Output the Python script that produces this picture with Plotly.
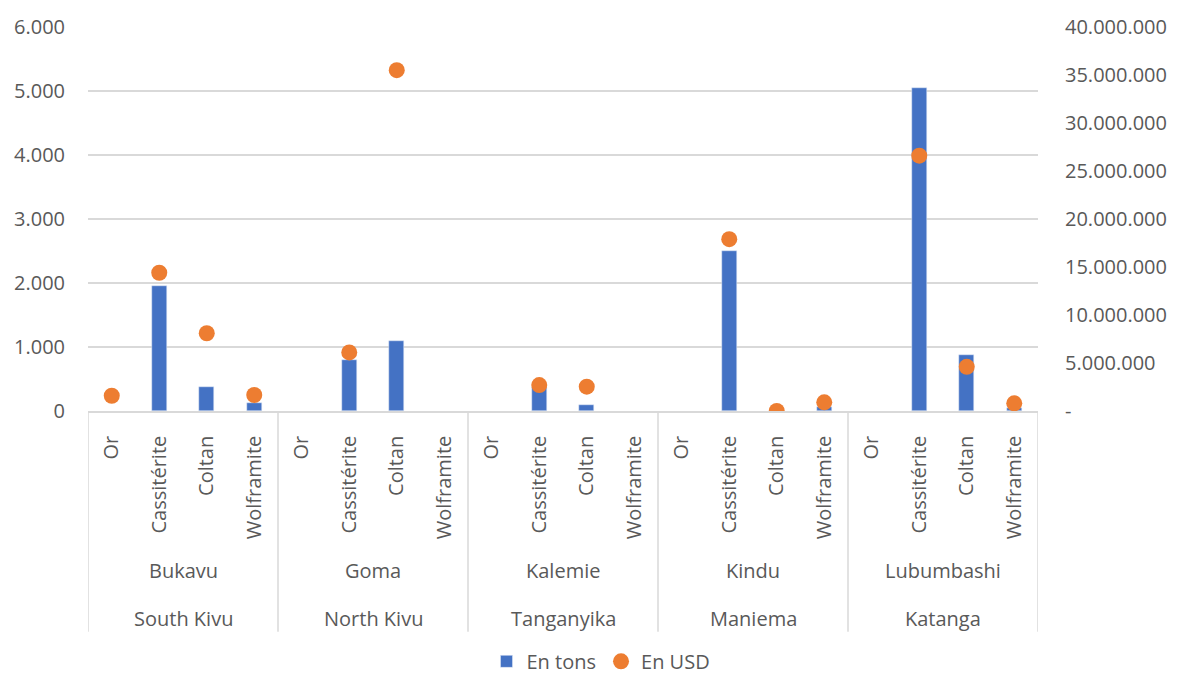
import plotly.graph_objects as go

provinces = ["South Kivu", "North Kivu", "Tanganyika", "Maniema", "Katanga"]
cities = ["Bukavu", "Goma", "Kalemie", "Kindu", "Lubumbashi"]
minerals = ["Or", "Cassitérite", "Coltan", "Wolframite"]

tons = [
    [None, 1950, 380, 120],
    [None, 790, 1100, None],
    [None, 380, 90, None],
    [None, 2500, None, 65],
    [None, 5050, 875, 50],
]
usd = [
    [1590000, 14400000, 8100000, 1670000],
    [None, 6100000, 35500000, None],
    [None, 2700000, 2530000, None],
    [None, 17900000, 0, 900000],
    [None, 26600000, 4600000, 800000],
]

y_left_ticks = [0, 1000, 2000, 3000, 4000, 5000, 6000]
y_right_ticks = [0, 5000000, 10000000, 15000000, 20000000, 25000000, 30000000, 35000000, 40000000]
y_right_text = ["-", "5.000.000", "10.000.000", "15.000.000", "20.000.000",
                "25.000.000", "30.000.000", "35.000.000", "40.000.000"]

cats = [f"{c}|{m}" for c in cities for m in minerals]
tons_flat = [v for row in tons for v in row]
usd_flat = [v for row in usd for v in row]
tick_text = [m for _ in cities for m in minerals]

FONT = "Open Sans"
TXT = "#595959"
FS = 20

fig = go.Figure()
fig.add_trace(go.Bar(x=cats, y=tons_flat, name="En tons", marker_color="#4472C4",
                     width=0.32, yaxis="y"))
fig.add_trace(go.Scatter(x=cats, y=usd_flat, name="En USD", mode="markers",
                         marker=dict(color="#ED7D31", size=16), yaxis="y2"))

n_groups = len(cities)
shapes = []
for g in range(n_groups + 1):
    xv = g * len(minerals) - 0.5
    shapes.append(dict(type="line", xref="x", yref="paper", x0=xv, x1=xv,
                       y0=0, y1=-0.575, line=dict(color="#D9D9D9", width=1.5)))

annotations = []
for g in range(n_groups):
    xc = g * len(minerals) + 1.5
    annotations.append(dict(x=xc, xref="x", y=-0.415, yref="paper", text=cities[g],
                            showarrow=False, font=dict(family=FONT, size=FS, color=TXT),
                            yanchor="middle"))
    annotations.append(dict(x=xc, xref="x", y=-0.54, yref="paper", text=provinces[g],
                            showarrow=False, font=dict(family=FONT, size=FS, color=TXT),
                            yanchor="middle"))

fig.update_layout(
    width=1178, height=678,
    margin=dict(l=88, r=140, t=27, b=267, autoexpand=False),
    plot_bgcolor="white", paper_bgcolor="white",
    separators=",.",
    font=dict(family=FONT, size=FS, color=TXT),
    bargap=0,
    xaxis=dict(type="category", tickvals=cats, ticktext=tick_text, tickangle=-90,
               showgrid=False, showline=True, linecolor="#D9D9D9", linewidth=1.5,
               ticks="outside", ticklen=15, tickcolor="rgba(0,0,0,0)", automargin=False,
               range=[-0.5, len(cats) - 0.5], tickfont=dict(size=FS, color=TXT)),
    yaxis=dict(range=[0, 6000], tickvals=y_left_ticks, tickformat=",d", automargin=False,
               showgrid=True, gridcolor="#D9D9D9", gridwidth=1.5, zeroline=False,
               ticks="outside", ticklen=18, tickcolor="rgba(0,0,0,0)",
               tickfont=dict(size=FS, color=TXT)),
    yaxis2=dict(range=[0, 40000000], overlaying="y", side="right", automargin=False,
                tickvals=y_right_ticks, ticktext=y_right_text, showgrid=False,
                zeroline=False, ticks="outside", ticklen=22, tickcolor="rgba(0,0,0,0)",
                tickfont=dict(size=FS, color=TXT)),
    legend=dict(orientation="h", x=0.54, xanchor="center", y=-0.652, yanchor="middle",
                font=dict(size=FS, color=TXT), itemwidth=30, traceorder="normal"),
    shapes=shapes, annotations=annotations, showlegend=True,
)

fig.write_html("out.html")
